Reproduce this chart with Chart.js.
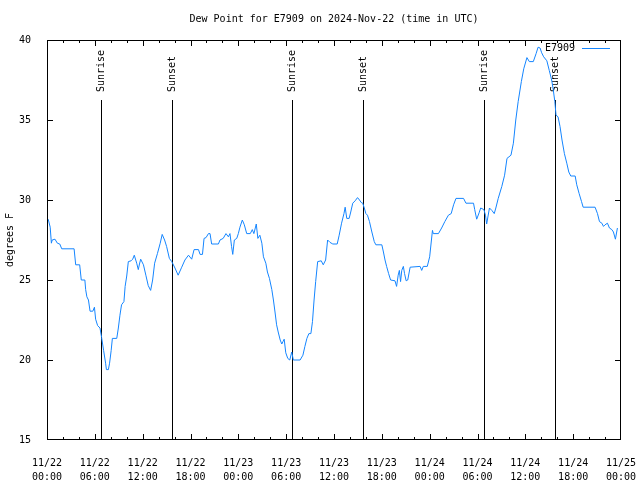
<!DOCTYPE html>
<html>
<head>
<meta charset="utf-8">
<title>Dew Point E7909</title>
<script src="https://cdn.jsdelivr.net/npm/chart.js@4.4.1/dist/chart.umd.min.js"></script>
<style>
  body { margin: 0; background: #fff; }
  #wrap { width: 640px; height: 480px; }
</style>
</head>
<body>
<div id="wrap"><canvas id="dewChart" width="640" height="480"></canvas></div>
<script>
// hours since 11/22 00:00 UTC
const hours = [
  0.15, 0.4, 0.55, 0.65, 1.0, 1.3, 1.6, 1.85, 3.4, 3.6, 4.1, 4.3, 4.75, 4.85, 5.0, 5.2, 5.4, 5.75, 5.95, 6.1,
  6.35, 6.65, 6.85, 7.1, 7.35, 7.45, 7.7, 7.85, 8.05, 8.2, 8.75, 8.95, 9.15, 9.35, 9.65, 9.8, 10.0, 10.2, 10.55, 10.75,
  10.95, 11.25, 11.45, 11.6, 11.75, 12.1, 12.4, 12.7, 13.0, 13.25, 13.5, 13.85, 14.2, 14.45, 14.75, 15.0, 15.35, 15.65, 16.05, 16.45,
  16.9, 17.3, 17.75, 18.15, 18.45, 19.0, 19.2, 19.5, 19.7, 19.95, 20.25, 20.45, 20.65, 21.5, 21.7, 22.1, 22.45, 22.75, 22.95, 23.15,
  23.3, 23.5, 23.8, 24.0, 24.2, 24.5, 24.75, 25.05, 25.5, 25.75, 25.95, 26.25, 26.45, 26.7, 26.95, 27.15, 27.45, 27.65, 27.9, 28.2,
  28.4, 28.6, 28.8, 29.0, 29.25, 29.45, 29.6, 29.75, 29.95, 30.2, 30.45, 30.7, 30.9, 31.75, 32.1, 32.35, 32.6, 32.85, 33.1, 33.3,
  33.5, 33.7, 33.95, 34.4, 34.65, 34.95, 35.2, 35.5, 35.85, 36.4, 36.65, 36.95, 37.25, 37.4, 37.6, 37.9, 38.1, 38.35, 38.65, 38.95,
  39.2, 39.4, 39.6, 39.8, 40.0, 40.2, 40.45, 40.75, 41.05, 41.25, 42.0, 42.2, 42.4, 42.6, 42.85, 43.1, 43.65, 43.85, 44.05, 44.2,
  44.35, 44.5, 44.7, 44.85, 45.05, 45.25, 45.55, 46.8, 47.0, 47.2, 47.7, 48.0, 48.35, 48.45, 49.1, 49.5, 49.9, 50.35, 50.7, 51.0,
  51.3, 52.25, 52.55, 53.5, 53.65, 53.9, 54.2, 54.4, 54.8, 55.0, 55.15, 55.5, 55.8, 56.1, 56.3, 56.6, 57.05, 57.4, 57.7, 58.2,
  58.5, 58.8, 59.1, 59.5, 59.8, 60.2, 60.5, 61.0, 61.35, 61.6, 61.85, 62.05, 62.3, 62.7, 63.0, 63.3, 63.5, 63.7, 63.85, 64.1,
  64.35, 64.6, 64.9, 65.2, 65.45, 65.7, 66.25, 66.45, 66.75, 67.05, 67.25, 68.75, 69.05, 69.3, 69.6, 69.8, 70.0, 70.3, 70.55, 70.85,
  71.05, 71.3, 71.55
];
// dew point, degrees F
const dewPoint = [
  28.8, 28.3, 27.3, 27.5, 27.55, 27.3, 27.25, 26.95, 26.95, 25.95, 25.95, 25.0, 25.0, 24.4, 23.95, 23.75, 23.05, 23.05, 23.3, 22.55,
  22.15, 22.0, 21.4, 20.6, 19.8, 19.4, 19.4, 19.8, 20.6, 21.35, 21.35, 22.0, 22.8, 23.45, 23.65, 24.6, 25.25, 26.15, 26.2, 26.3,
  26.55, 26.05, 25.65, 26.0, 26.3, 25.95, 25.3, 24.65, 24.35, 25.0, 26.05, 26.65, 27.3, 27.85, 27.5, 27.1, 26.35, 26.15, 25.75, 25.3,
  25.8, 26.25, 26.55, 26.3, 26.9, 26.9, 26.6, 26.6, 27.6, 27.65, 27.9, 27.9, 27.25, 27.25, 27.5, 27.6, 27.9, 27.7, 27.9, 27.1,
  26.6, 27.5, 27.6, 27.9, 28.3, 28.75, 28.45, 27.9, 27.9, 28.15, 27.9, 28.5, 27.6, 27.8, 27.3, 26.45, 26.05, 25.5, 25.1, 24.4,
  23.75, 23.0, 22.2, 21.75, 21.25, 21.0, 21.15, 21.3, 20.45, 20.1, 20.0, 20.5, 20.0, 20.0, 20.3, 20.85, 21.35, 21.65, 21.65, 22.4,
  23.75, 24.9, 26.15, 26.2, 25.95, 26.25, 27.5, 27.35, 27.25, 27.25, 27.8, 28.55, 29.15, 29.55, 28.85, 28.85, 29.25, 29.8, 29.95, 30.15,
  30.0, 29.85, 29.8, 29.5, 29.15, 29.05, 28.65, 28.0, 27.4, 27.2, 27.2, 26.75, 26.25, 25.85, 25.4, 25.0, 24.95, 24.6, 25.3, 25.6,
  24.9, 25.6, 25.85, 25.4, 24.95, 25.0, 25.8, 25.85, 25.6, 25.85, 25.85, 26.45, 28.1, 27.9, 27.9, 28.25, 28.65, 29.05, 29.15, 29.7,
  30.1, 30.1, 29.8, 29.8, 29.4, 28.8, 29.2, 29.5, 29.4, 29.05, 28.5, 29.5, 29.35, 29.15, 29.5, 30.1, 30.85, 31.55, 32.6, 32.8,
  33.55, 35.0, 36.15, 37.4, 38.2, 38.9, 38.65, 38.65, 39.15, 39.55, 39.5, 39.2, 38.95, 38.7, 38.1, 37.5, 36.9, 36.15, 35.3, 35.2,
  34.6, 33.75, 32.9, 32.3, 31.75, 31.5, 31.5, 30.95, 30.4, 29.9, 29.55, 29.55, 29.15, 28.65, 28.55, 28.35, 28.45, 28.55, 28.25, 28.15,
  28.0, 27.55, 28.25
];

// sunrise / sunset markers (hours)
const sunHours = [6.78, 15.68, 30.78, 39.69, 54.87, 63.78];
const sunLabels = ['Sunrise', 'Sunset', 'Sunrise', 'Sunset', 'Sunrise', 'Sunset'];

// x tick labels every 6 hours
const tickDates = ['11/22', '11/22', '11/22', '11/22', '11/23', '11/23', '11/23', '11/23', '11/24', '11/24', '11/24', '11/24', '11/25'];
const tickTimes = ['00:00', '06:00', '12:00', '18:00', '00:00', '06:00', '12:00', '18:00', '00:00', '06:00', '12:00', '18:00', '00:00'];
const yTicks = [15, 20, 25, 30, 35, 40];

const FONT = '10px "DejaVu Sans Mono", monospace';
const LINE_COLOR = '#1485ff';

// 标题、图例、日出日落线、刻度
const overlay = {
  id: 'overlay',
  beforeDatasetsDraw(chart) {
    const { ctx, chartArea: a, scales: { x } } = chart;
    ctx.save();
    ctx.strokeStyle = '#000';
    ctx.lineWidth = 1;
    ctx.font = FONT;
    ctx.fillStyle = '#000';
    sunHours.forEach((h, i) => {
      const px = Math.round(x.getPixelForValue(h)) + 0.5;
      ctx.beginPath();
      ctx.moveTo(px, a.top + 60);
      ctx.lineTo(px, a.bottom);
      ctx.stroke();
      ctx.save();
      ctx.translate(px, a.top + 52);
      ctx.rotate(-Math.PI / 2);
      ctx.textAlign = 'left';
      ctx.textBaseline = 'middle';
      ctx.fillText(sunLabels[i], 0, 0);
      ctx.restore();
    });
    ctx.restore();
  },
  afterDraw(chart) {
    const { ctx, chartArea: a, scales: { x, y } } = chart;
    ctx.save();
    ctx.strokeStyle = '#000';
    ctx.lineWidth = 1;
    // frame
    ctx.strokeRect(a.left + 0.5, a.top + 0.5, a.right - a.left - 1, a.bottom - a.top - 1);
    // ticks (inward)
    ctx.beginPath();
    yTicks.forEach(v => {
      const py = Math.min(Math.round(y.getPixelForValue(v)), a.bottom - 1) + 0.5;
      ctx.moveTo(a.left, py); ctx.lineTo(a.left + 6, py);
      ctx.moveTo(a.right, py); ctx.lineTo(a.right - 6, py);
    });
    for (let h = 0; h <= 72; h += 2) {
      const px = Math.min(Math.round(x.getPixelForValue(h)), a.right - 1) + 0.5;
      const len = h % 6 === 0 ? 6 : 3;
      ctx.moveTo(px, a.bottom); ctx.lineTo(px, a.bottom - len);
      ctx.moveTo(px, a.top); ctx.lineTo(px, a.top + len);
    }
    ctx.stroke();
    // title
    ctx.font = FONT;
    ctx.fillStyle = '#000';
    ctx.textAlign = 'center';
    ctx.textBaseline = 'middle';
    ctx.fillText('Dew Point for E7909 on 2024-Nov-22 (time in UTC)', (a.left + a.right) / 2, 19);
    // legend
    ctx.textAlign = 'right';
    ctx.fillText('E7909', a.right - 46, a.top + 8);
    ctx.strokeStyle = LINE_COLOR;
    ctx.beginPath();
    ctx.moveTo(a.right - 39, a.top + 8.5);
    ctx.lineTo(a.right - 11, a.top + 8.5);
    ctx.stroke();
    ctx.restore();
  }
};

const tickFont = { family: '"DejaVu Sans Mono", monospace', size: 10, lineHeight: 1.4 };

new Chart(document.getElementById('dewChart'), {
  type: 'line',
  data: {
    datasets: [{
      label: 'E7909',
      data: hours.map((h, i) => ({ x: h, y: dewPoint[i] })),
      borderColor: LINE_COLOR,
      borderWidth: 1,
      pointRadius: 0,
      tension: 0,
      fill: false
    }]
  },
  options: {
    responsive: false,
    animation: false,
    layout: { padding: { top: 40, right: 19, left: 0, bottom: 0 } },
    plugins: {
      legend: { display: false },
      title: { display: false },
      tooltip: { enabled: false }
    },
    scales: {
      x: {
        type: 'linear',
        min: 0,
        max: 72,
        grid: { display: false },
        border: { display: false },
        ticks: {
          stepSize: 6,
          autoSkip: false,
          maxRotation: 0,
          padding: 8,
          color: '#000',
          font: tickFont,
          callback: v => {
            const i = Math.round(v / 6);
            return [tickDates[i], tickTimes[i]];
          }
        },
        afterFit: s => {
          s.height = 40;
          s.paddingLeft = 0;
          s.paddingRight = 0;
        }
      },
      y: {
        min: 15,
        max: 40,
        grid: { display: false },
        border: { display: false },
        ticks: {
          stepSize: 5,
          padding: 8,
          color: '#000',
          font: { family: '"DejaVu Sans Mono", monospace', size: 10 }
        },
        title: {
          display: true,
          text: 'degrees F',
          color: '#000',
          font: { family: '"DejaVu Sans Mono", monospace', size: 10 },
          padding: { top: 4, bottom: 4 }
        },
        afterFit: s => {
          s.width = 47;
          s.paddingTop = 0;
          s.paddingBottom = 0;
        }
      }
    }
  },
  plugins: [overlay]
});
</script>
</body>
</html>
